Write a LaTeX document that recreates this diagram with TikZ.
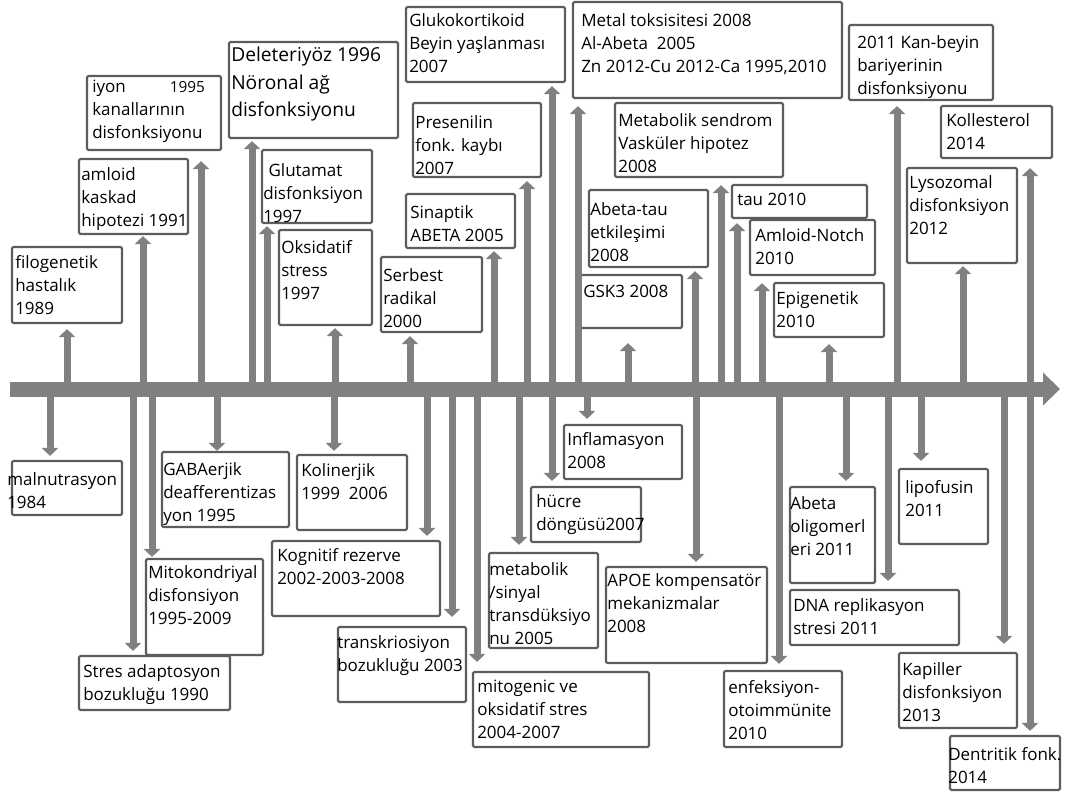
\documentclass[tikz,border=0pt]{standalone}
\usepackage{fontspec}
\setmainfont{Open Sans}
\usetikzlibrary{arrows.meta,fit}
\newdimen\pxu \pxu=0.75pt
\begin{document}
\begin{tikzpicture}[x=0.75pt,y=-0.75pt,
  box/.style={draw=black!64,line width=1.6pt,fill=white,rounded corners=1pt,inner sep=0pt},
  lbl/.style={anchor=north west,inner sep=0pt,align=left,text=black,font=\fontsize{12.75pt}{17.25pt}\selectfont},
  biglbl/.style={lbl,font=\fontsize{14.4pt}{20.6pt}\selectfont},
  conn/.style={draw=black!50,line width=5.25pt,-{Triangle[length=6pt,width=12pt]}},
  tline/.style={draw=black!50,line width=11.25pt,-{Triangle[length=12.75pt,width=24pt]}}]
\useasboundingbox[fill=white] (0,0) rectangle (1066,793);
% ---------- boxes (top) ----------
\node[box,fit={(12,247) (122,323)}] (b1) {};
\node[box,fit={(79,159) (188,234)}] (b2) {};
\node[box,fit={(87,76) (221,150)}] (b3) {};
\node[box,fit={(229,42) (398,138)}] (b4) {};
\node[box,fit={(262,150) (372,223)}] (b5) {};
\node[box,fit={(279,230) (372,325)}] (b6) {};
\node[box,fit={(381,257) (482,332)}] (b7) {};
\node[box,fit={(406,194) (515,248)}] (b8) {};
\node[box,fit={(413,103) (541,177)}] (b9) {};
\node[box,fit={(406,7) (565,82)}] (b10) {};
\node[box,fit={(573,2) (842,98)}] (b11) {};
\node[box,fit={(615,103) (783,177)}] (b12) {};
\node[box,fit={(589,190) (708,267)}] (b13) {};
\node[box,fit={(580,275) (682,328)}] (b14) {};
\node[box,fit={(732,185) (867,218)}] (b15) {};
\node[box,fit={(750,220) (875,275)}] (b16) {};
\node[box,fit={(774,283) (884,337)}] (b17) {};
\node[box,fit={(849,25) (993,100)}] (b18) {};
\node[box,fit={(941,106) (1052,158)}] (b19) {};
\node[box,fit={(907,168) (1017,263)}] (b20) {};
% ---------- boxes (bottom) ----------
\node[box,fit={(12,461) (122,515)}] (b21) {};
\node[box,fit={(146,559) (263,655)}] (b23) {};
\node[box,fit={(79,656) (230,710)}] (b22) {};
\node[box,fit={(162,452) (289,527)}] (b24) {};
\node[box,fit={(297,455) (407,530)}] (b25) {};
\node[box,fit={(272,541) (440,616)}] (b26) {};
\node[box,fit={(338,627) (466,702)}] (b27) {};
\node[box,fit={(473,672) (649,747)}] (b28) {};
\node[box,fit={(489,553) (598,648)}] (b29) {};
\node[box,fit={(531,487) (641,542)}] (b30) {};
\node[box,fit={(564,425) (682,479)}] (b31) {};
\node[box,fit={(606,567) (767,663)}] (b32) {};
\node[box,fit={(724,671) (842,747)}] (b33) {};
\node[box,fit={(790,487) (875,583)}] (b34) {};
\node[box,fit={(790,590) (959,645)}] (b35) {};
\node[box,fit={(899,469) (988,544)}] (b36) {};
\node[box,fit={(899,653) (1017,728)}] (b37) {};
\node[box,fit={(950,736) (1060,790)}] (b38) {};
% ---------- texts ----------
\node[lbl] (t1) at (15,255) {filogenetik\\hastalık\\1989};
\node[lbl] (t2) at (81,167) {amloid\\kaskad\\hipotezi 1991};
\node[lbl] (t3) at (92,80) {iyon\hspace*{33pt}{\fontsize{11.5pt}{17.25pt}\selectfont 1995}\\kanallarının\\disfonksiyonu};
\node[biglbl] (t4) at (231,47) {Deleteriyöz 1996\\Nöronal ağ\\disfonksiyonu};
\node[lbl] (t5) at (263,163) {\hspace*{4pt}Glutamat\\disfonksiyon\\1997};
\node[lbl] (t6) at (281,240) {Oksidatif\\stress\\1997};
\node[lbl] (t7) at (383,268) {Serbest\\radikal\\2000};
\node[lbl] (t8) at (410,205) {Sinaptik\\ABETA 2005};
\node[lbl] (t9) at (415,115) {Presenilin\\fonk. kaybı\\2007};
\node[lbl] (t10) at (409,13) {Glukokortikoid\\Beyin yaşlanması\\2007};
\node[lbl] (t11) at (581,13) {Metal toksisitesi 2008\\Al-Abeta\ \ 2005\\Zn 2012-Cu 2012-Ca 1995,2010};
\node[lbl] (t12) at (618,113) {Metabolik sendrom\\Vasküler hipotez\\2008};
\node[lbl] (t13) at (590,202) {Abeta-tau\\etkileşimi\\2008};
\node[lbl] (t14) at (583,285) {GSK3 2008};
\node[lbl] (t15) at (737,193) {tau 2010};
\node[lbl] (t16) at (755,228) {Amloid-Notch\\2010};
\node[lbl] (t17) at (776,291) {Epigenetik\\2010};
\node[lbl] (t18) at (857,35) {2011 Kan-beyin\\bariyerinin\\disfonksiyonu};
\node[lbl] (t19) at (946,113) {Kollesterol\\2014};
\node[lbl] (t20) at (909,175) {Lysozomal\\disfonksiyon\\2012};
\node[lbl] (t21) at (7,472) {malnutrasyon\\1984};
\node[lbl] (t22) at (83,664) {Stres adaptosyon\\bozukluğu 1990};
\node[lbl] (t23) at (148,565) {Mitokondriyal\\disfonsiyon\\1995-2009};
\node[lbl] (t24) at (163,462) {GABAerjik\\deafferentizas\\yon 1995};
\node[lbl] (t25) at (301,463) {Kolinerjik\\1999\ \ 2006};
\node[lbl] (t26) at (277,548) {Kognitif rezerve\\2002-2003-2008};
\node[lbl] (t27) at (337,635) {transkriosiyon\\bozukluğu 2003};
\node[lbl] (t28) at (477,680) {mitogenic ve\\oksidatif stres\\2004-2007};
\node[lbl] (t29) at (489,562) {metabolik\\/sinyal\\transdüksiyo\\nu 2005};
\node[lbl] (t30) at (536,494) {hücre\\döngüsü2007};
\node[lbl] (t31) at (567,432) {Inflamasyon\\2008};
\node[lbl] (t32) at (607,573) {APOE kompensatör\\mekanizmalar\\2008};
\node[lbl] (t33) at (728,680) {enfeksiyon-\\otoimmünite\\2010};
\node[lbl] (t34) at (790,496) {Abeta\\oligomerl\\eri 2011};
\node[lbl] (t35) at (793,598) {DNA replikasyon\\stresi 2011};
\node[lbl] (t36) at (905,480) {lipofusin\\2011};
\node[lbl] (t37) at (902,662) {Kapiller\\disfonksiyon\\2013};
\node[lbl] (t38) at (948,747) {Dentritik fonk.\\2014};
% ---------- anchor points on the time line ----------
\coordinate (tl0) at (10,389);
\coordinate (tl1) at (1060,389);
\foreach \n/\xx in {1/67,2/143,3/201,4/252,5/267,6/335,7/410,8/494,9/527,10/552,
  11/578,12/721,13/695,14/628,15/737,16/762,17/829,18/897,19/1030,20/963,
  21/50,22/133,23/152,24/217,25/334,26/427,27/452,28/477,29/519,30/552,
  31/587,32/696,33/779,34/846,35/888,36/921,37/1004,38/1030}
  {\coordinate (a\n) at (\xx,389);}
% ---------- connectors up ----------
\foreach \n/\g in {1/5,2/1,3/10,4/2,5/2,6/2,7/3,8/2,9/3,10/3,11/7,12/7,13/3,14/14,
  15/4,16/7,17/6,18/5,19/9,20/2}
  {\draw[conn,shorten >=\g\pxu] (a\n) -- (a\n |- b\n.south);}
% ---------- connectors down ----------
\foreach \n/\g in {21/4,22/4,23/1,24/0,25/3,26/4,27/9,28/9,29/7,30/5,31/5,32/4,
  33/6,34/5,35/8,36/7,37/8,38/4}
  {\draw[conn,shorten >=\g\pxu] (a\n) -- (a\n |- b\n.north);}
% ---------- time line ----------
\draw[tline] (tl0) -- (tl1);
\end{tikzpicture}
\end{document}
